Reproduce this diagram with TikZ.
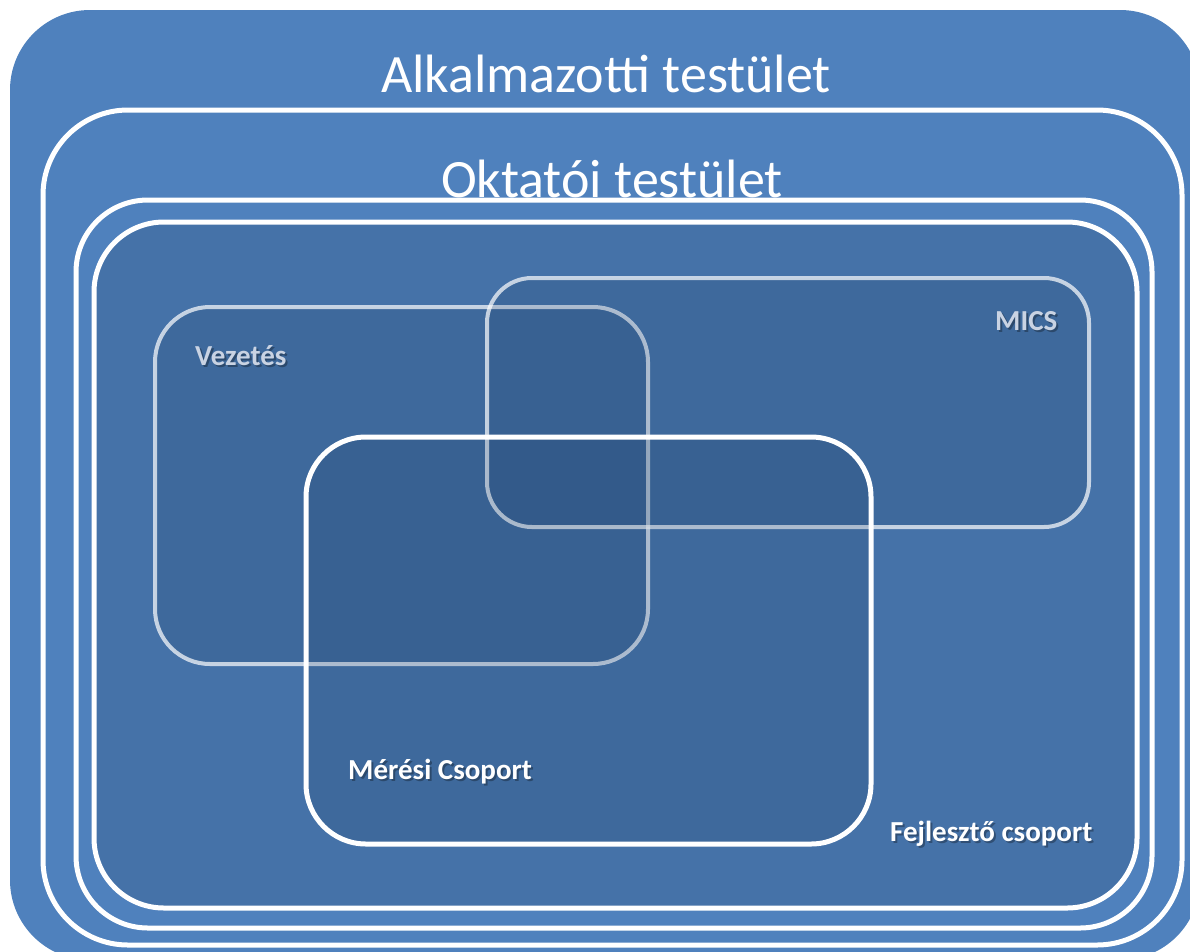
\documentclass[tikz,border=0pt]{standalone}
\usepackage{fontspec}
\setmainfont{Carlito}
\definecolor{outerblue}{HTML}{4F81BD}
\definecolor{innerblue}{HTML}{4572A8}
\definecolor{shade}{HTML}{17375E}
\definecolor{palelabel}{HTML}{C9D3E3}
\tikzset{
  whiteline/.style={draw=white, line width=5pt},
  groupbox/.style={fill=shade, fill opacity=0.15, draw=white, draw opacity=0.7, line width=4pt},
  mainbox/.style={fill=shade, fill opacity=0.15, draw=white, line width=5pt},
  title/.style={text=white, font=\fontsize{54}{60}\selectfont, anchor=base, inner sep=0pt},
  label/.style={font=\bfseries\fontsize{29}{34}\selectfont, anchor=base west, inner sep=0pt},
  lblshadow/.style={label, text=black, text opacity=0.3},
}
\begin{document}
\begin{tikzpicture}[x=1pt,y=-1pt]
\useasboundingbox (0,0) rectangle (1190,951);
\begin{scope}
  \clip (0,0) rectangle (1190,951);
  \fill[outerblue, rounded corners=80pt] (10,10) rectangle (1200,960);
\end{scope}
% nested frames
\draw[whiteline, rounded corners=85pt] (43,110) rectangle (1182,945);
\draw[whiteline, rounded corners=72pt] (76,200) rectangle (1152,928);
\draw[whiteline, fill=innerblue, rounded corners=70pt] (94,222) rectangle (1137,908);
% titles
\node[title] (alk) at (606,92) {Alkalmazotti testület};
\node[title] (okt) at (612,197) {Oktatói testület};
% overlapping groups
\draw[groupbox, rounded corners=55pt] (155,307) rectangle (648,664);
\draw[groupbox, rounded corners=45pt] (487,278) rectangle (1089,527);
\draw[mainbox, rounded corners=60pt] (306,437) rectangle (871,844);
% labels with soft shadow
\node[lblshadow] at (197,367) {Vezetés};
\node[label, text=palelabel] (vez) at (195,365) {Vezetés};
\node[lblshadow] at (997,332) {MICS};
\node[label, text=palelabel] (mics) at (995,330) {MICS};
\node[lblshadow] at (350,781) {Mérési Csoport};
\node[label, text=white] (mer) at (348,779) {Mérési Csoport};
\node[lblshadow] at (892,843) {Fejlesztő csoport};
\node[label, text=white] (fej) at (890,841) {Fejlesztő csoport};
\end{tikzpicture}
\end{document}
